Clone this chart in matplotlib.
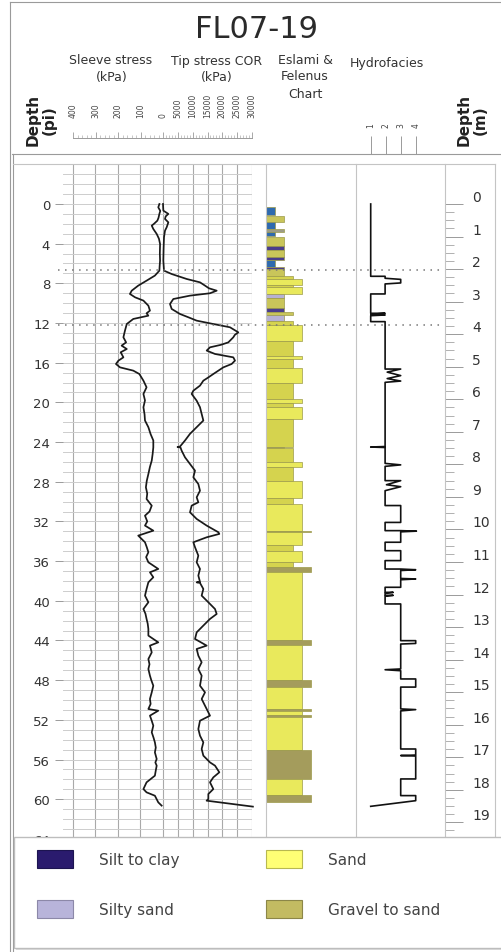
import matplotlib
matplotlib.use("Agg")
import matplotlib.pyplot as plt
from matplotlib.patches import Patch, Rectangle
from matplotlib.lines import Line2D
from matplotlib.ticker import MultipleLocator, FixedLocator
from matplotlib.transforms import blended_transform_factory

# ---------------- data ----------------
# CPT sleeve friction (kPa) against depth (ft)
sleeve_depth = [0.0, 0.34, 0.7, 1.0, 1.4, 1.68, 2.0, 2.18, 2.52, 3.02, 3.5, 4.03, 5.0, 5.71, 6.3, 6.72,
                7.22, 7.73, 8.23, 8.74, 9.07, 9.41, 9.74, 10.25, 10.75, 11.02, 11.26, 11.59, 12.1, 12.77,
                13.44, 13.95, 14.28, 14.62, 14.95, 15.46, 15.79, 16.13, 16.47, 16.8, 17.14, 17.81, 18.48,
                19.15, 19.8, 20.49, 21.2, 21.83, 22.5, 23.2, 23.84, 24.53, 25.2, 25.87, 26.5, 27.22, 27.9,
                28.56, 29.2, 29.74, 30.41, 31.0, 31.42, 32.0, 32.42, 32.93, 33.43, 34.1, 34.6, 35.11, 35.6,
                36.12, 36.79, 37.13, 37.63, 38.14, 38.81, 39.48, 40.15, 40.83, 41.3, 41.83, 42.3, 42.84,
                43.51, 44.19, 44.52, 45.2, 45.87, 46.4, 46.88, 47.55, 48.0, 48.56, 49.23, 49.9, 50.4, 50.91,
                51.08, 51.58, 52.1, 52.59, 53.26, 53.8, 54.27, 54.8, 55.28, 55.95, 56.3, 56.62, 57.1, 57.63,
                58.3, 58.98, 59.31, 59.65, 60.32, 60.65]
sleeve_kpa = [16, 21, 12, 16, 20, 25, 40, 50, 43, 28, 18, 13, 14, 13, 15, 16,
              36, 73, 110, 139, 147, 124, 87, 65, 58, 73, 65, 132, 161, 169,
              176, 164, 184, 161, 188, 176, 198, 209, 191, 132, 105, 87, 73,
              87, 80, 87, 82, 80, 65, 55, 43, 43, 46, 50, 58, 65, 72,
              76, 70, 73, 50, 60, 80, 70, 80, 43, 110, 80, 72, 65, 75,
              65, 21, 58, 43, 65, 73, 80, 65, 87, 78, 73, 68, 65,
              65, 21, 58, 50, 65, 60, 65, 58, 52, 43, 50, 58, 55, 65,
              21, 58, 50, 43, 50, 42, 36, 32, 36, 28, 34, 28, 32, 36,
              73, 87, 73, 36, 21, 6]

# CPT corrected tip resistance (kPa) against depth (ft)
tip_depth = [0.0, 0.67, 1.0, 1.25, 1.51, 1.85, 2.35, 2.69, 3.36, 4.5, 5.71, 6.72, 7.06, 7.56, 7.9,
             8.23, 8.5, 8.74, 9.0, 9.24, 9.58, 10.08, 10.58, 11.09, 11.42, 11.76, 12.1, 12.43, 12.94,
             13.2, 13.44, 13.95, 14.2, 14.45, 14.78, 15.12, 15.46, 15.79, 16.13, 16.47, 17.14, 17.5,
             17.81, 18.31, 18.82, 19.15, 19.83, 20.49, 21.16, 21.83, 22.5, 23.17, 23.84, 24.45, 24.5,
             24.55, 24.87, 25.54, 26.21, 26.88, 27.55, 28.23, 28.9, 29.57, 30.07, 30.41, 31.08, 31.75,
             32.42, 33.09, 33.26, 33.6, 34.1, 34.6, 35.45, 36.12, 36.79, 37.46, 38.1, 38.14, 38.2,
             38.81, 39.48, 40.15, 40.83, 41.33, 41.83, 42.5, 43.18, 43.85, 44.52, 44.86, 45.53, 46.2,
             46.88, 47.55, 48.56, 49.23, 49.9, 50.91, 51.58, 52.09, 52.93, 53.6, 54.27, 54.94, 55.61,
             56.29, 56.62, 57.29, 57.8, 58.3, 58.98, 59.48, 59.98, 60.15, 60.75]
tip_kpa = [0, 112, 1800, 900, 674, 1800, 1236, 674, 337, 200, 112, 337, 2920, 7980, 12470,
           14160, 15500, 18090, 15840, 9100, 3480, 2360, 2920, 5730, 8540, 11350, 16960, 22580, 25390,
           24200, 23700, 22020, 19500, 15840, 14720, 17530, 23700, 24270, 23140, 20330, 16960, 15200,
           13600, 12470, 10230, 9660, 11350, 12470, 13030, 13600, 11350, 9100, 7420, 5730, 4900,
           5900, 6290, 7420, 9100, 10790, 10230, 11910, 12470, 11350, 11910, 9660, 9100, 11350,
           14720, 18650, 18990, 14720, 10230, 10790, 11910, 11350, 12470, 11910, 12470, 11350, 12470,
           13600, 13030, 15280, 17530, 18090, 15840, 13600, 11350, 10790, 14720, 11350, 11910, 13030,
           11910, 13030, 12470, 14160, 13030, 14720, 15840, 12470, 11910, 12470, 13600, 13030, 13600,
           15840, 17530, 18990, 16960, 15840, 16960, 15280, 15280, 14700, 30300]

# Hydrofacies code along depth (ft)
hydro_depth = [0.0, 7.29, 7.29, 7.49, 7.6, 7.96, 8.06, 9.07, 9.07, 11.02, 11.02, 11.12, 11.19, 11.26,
               11.86, 11.86, 16.64, 16.64, 16.95, 17.3, 17.6, 17.85, 17.98, 24.45, 24.5, 24.55, 26.15,
               26.3, 26.45, 27.89, 27.89, 28.3, 28.5, 28.9, 30.4, 30.4, 32.1, 32.1, 32.93, 32.93, 32.98,
               33.05, 34.1, 34.1, 34.95, 34.95, 35.95, 35.95, 36.8, 36.8, 36.87, 36.95, 37.75, 37.8,
               37.88, 38.64, 38.64, 39.15, 39.15, 39.25, 39.45, 39.45, 39.55, 40.32, 40.32, 44.02,
               44.02, 44.3, 44.36, 46.87, 46.95, 47.05, 47.88, 47.88, 48.7, 48.7, 50.9, 50.97, 51.1,
               54.94, 54.94, 55.55, 55.6, 55.65, 57.96, 57.96, 59.64, 59.64, 60.15, 60.72]
hydro_value = [1.0, 1.0, 1.96, 1.96, 3.0, 3.0, 1.96, 1.96, 1.0, 1.0, 1.96, 1.0, 1.96, 1.0,
               1.0, 1.96, 1.96, 3.0, 2.1, 3.0, 2.1, 3.0, 1.96, 1.96, 1.0, 1.96, 1.96,
               3.0, 1.96, 1.96, 3.0, 2.05, 3.0, 1.96, 1.96, 3.0, 3.0, 1.96, 1.96, 3.0, 4.05,
               3.0, 3.0, 1.96, 1.96, 3.0, 3.0, 1.96, 1.96, 3.0, 4.0, 3.0, 3.0, 4.0,
               3.0, 3.0, 1.96, 1.96, 2.5, 1.96, 1.96, 2.5, 1.96, 1.96, 3.0, 3.0,
               4.0, 4.0, 3.0, 3.0, 1.96, 3.0, 3.0, 4.0, 4.0, 3.0, 3.0, 4.0, 3.0,
               3.0, 4.0, 4.0, 3.0, 4.0, 4.0, 3.0, 3.0, 4.0, 4.0, 1.0]

# Eslami & Fellenius soil classes: layer top/base (ft), class index, soil type
layer_top = [0.27, 1.18, 1.85, 2.52, 2.8, 3.36, 4.27, 4.6, 5.38, 5.6, 6.4, 6.6, 7.22, 7.56, 8.16,
             8.4, 9.07, 9.5, 10.5, 10.9, 11.2, 11.8, 12.16, 13.8, 15.3, 15.6, 16.5, 18.0, 19.66,
             20.06, 20.5, 21.67, 24.48, 24.58, 26.04, 26.54, 27.9, 29.67, 30.24, 32.93, 33.1, 34.35,
             34.95, 36.1, 36.6, 37.1, 44.0, 44.5, 48.0, 48.7, 50.9, 51.1, 51.5, 51.7, 55.0, 58.0, 59.6]
layer_base = [1.1, 1.85, 2.52, 2.8, 3.26, 4.27, 4.6, 5.38, 5.6, 6.4, 6.6, 7.22, 7.56, 8.16, 8.4,
              9.07, 9.5, 10.5, 10.9, 11.2, 11.8, 12.16, 13.8, 15.3, 15.6, 16.5, 18.0, 19.66, 20.06,
              20.5, 21.67, 24.48, 24.58, 26.04, 26.54, 27.9, 29.67, 30.24, 32.93, 33.1, 34.35, 34.95,
              36.1, 36.6, 37.1, 44.0, 44.5, 48.0, 48.7, 50.9, 51.1, 51.5, 51.7, 55.0, 58.0, 59.6, 60.25]
layer_class = [1, 2, 1, 2, 1, 2, 2, 2, 2, 1, 2, 2, 3, 4, 3,
               4, 2, 2, 2, 3, 2, 3, 4, 3, 4, 3, 4, 3, 4,
               3, 4, 3, 2, 3, 4, 3, 4, 3, 4, 5, 4, 3,
               4, 3, 5, 4, 5, 4, 5, 4, 5, 4, 5, 4, 5, 4, 5]
layer_type = ["clay", "mixed", "clay", "trace", "clay", "mixed", "silt", "mixed", "silt", "clay",
              "silt", "mixed", "sandf", "sand", "sandf", "sand", "silty", "mixed", "silt", "mixed",
              "silty", "sandf", "sand", "sandf", "sand", "sandf", "sand", "sandf", "sand", "sandf",
              "sand", "sandf", "trace", "sandf", "sand", "sandf", "sand", "sandf", "sand", "gravel",
              "sand", "sandf", "sand", "sandf", "gravel", "sand", "gravel", "sand", "gravel", "sand",
              "gravel", "sand", "gravel", "sand", "gravel", "sand", "gravel"]

boundary_depth = [6.65, 12.2]
sleeve_ticks = [400, 300, 200, 100, 0]
tip_ticks = [5000, 10000, 15000, 20000, 25000, 30000]
hydro_ticks = [1, 2, 3, 4]
depth_ft_ticks = list(range(0, 65, 4))
depth_m_ticks = list(range(0, 21))
legend_labels = ["Silt to clay", "Silty sand", "Sand", "Gravel to sand"]
legend_colors = ["#2a1b6e", "#b8b4da", "#ffff75", "#c3bb62"]
legend_edges = ["#1c1450", "#8c88a8", "#b8b850", "#8c8648"]

# ---------------- styling ----------------
soil_colors = {"clay": "#2f6aae", "silt": "#4a3d8c", "silty": "#b6b1d4", "mixed": "#c9c55a",
               "sandf": "#d5d34e", "sand": "#e9e95c", "gravel": "#a49c5c", "trace": "#9d9c86"}
frame_c = "#9a9a9a"
vgrid_c = "#a9a9a9"
hgrid_c = "#cdcdcd"
text_c = "#333333"
plt.rcParams["font.family"] = ["DejaVu Sans"]

W, H = 501.0, 953.0
fig = plt.figure(figsize=(W / 100, H / 100), dpi=100)
fig.patch.set_facecolor("white")


def px_axes(x0, y0, x1, y1):
    return fig.add_axes([x0 / W, 1 - y1 / H, (x1 - x0) / W, (y1 - y0) / H])


def px_line(xs, ys, **kw):
    fig.add_artist(Line2D([x / W for x in xs], [1 - y / H for y in ys],
                          transform=fig.transFigure, **kw))


def px_text(x, y, s, **kw):
    return fig.text(x / W, 1 - y / H, s, **kw)


top_ft, bot_ft = -4.03, 64.82

# ---------------- stress track ----------------
ax_s = px_axes(63, 165, 252, 848)
ax_s.patch.set_visible(False)
ax_t = ax_s.twiny()
ax_t.patch.set_visible(False)

ax_s.plot(sleeve_kpa, sleeve_depth, color="#1a1a1a", lw=1.25, zorder=3)
ax_t.plot(tip_kpa, tip_depth, color="#1a1a1a", lw=1.25, zorder=3, clip_on=False)

ax_s.set_xlim(444.4, -395.6)
ax_t.set_xlim(-33708, 30000)
ax_s.set_ylim(bot_ft, top_ft)

ax_s.set_xticks(sleeve_ticks)
ax_s.tick_params(axis="x", length=0, labelbottom=False, labeltop=False)
ax_s.grid(axis="x", color=vgrid_c, lw=0.8, zorder=1)
ax_s.vlines(tip_ticks, 0, 1, transform=blended_transform_factory(ax_t.transData, ax_s.transAxes),
            color=vgrid_c, lw=0.8, zorder=1)
ax_s.set_xlim(444.4, -395.6)
ax_s.set_ylim(bot_ft, top_ft)
ax_s.yaxis.set_major_locator(FixedLocator(depth_ft_ticks))
ax_s.yaxis.set_minor_locator(MultipleLocator(1))
ax_s.grid(axis="y", which="both", color=hgrid_c, lw=0.7, zorder=0.5)
ax_s.tick_params(axis="y", which="major", direction="out", length=5.8, width=0.7, color=frame_c,
                 pad=3.4, labelsize=9.5, labelcolor=text_c)
ax_s.tick_params(axis="y", which="minor", length=0)
for sp in ax_s.spines.values():
    sp.set_visible(False)
ax_t.axis("off")

# ---------------- Eslami & Fellenius column ----------------
ax_e = px_axes(266, 165, 356, 848)
ax_e.patch.set_visible(False)
ax_e.barh(layer_top, layer_class, height=[b - t for t, b in zip(layer_top, layer_base)],
          left=0, align="edge", color=[soil_colors[k] for k in layer_type],
          edgecolor="#9c9a4a", linewidth=0.5)
ax_e.set_xlim(0, 10)
ax_e.set_ylim(bot_ft, top_ft)
ax_e.axis("off")

# ---------------- hydrofacies column ----------------
ax_h = px_axes(356, 165, 445, 848)
ax_h.patch.set_visible(False)
ax_h.plot(hydro_value, hydro_depth, color="#111111", lw=1.2)
ax_h.set_xlim(0.02, 5.953)
ax_h.set_ylim(bot_ft, top_ft)
ax_h.axis("off")

# ---------------- metric depth scale ----------------
ax_m = px_axes(445, 165, 495, 848)
ax_m.patch.set_visible(False)
ax_m.set_ylim(bot_ft * 0.3048, top_ft * 0.3048)
ax_m.set_xticks([])
ax_m.yaxis.set_major_locator(FixedLocator(depth_m_ticks))
ax_m.yaxis.set_minor_locator(FixedLocator([k * 0.25 for k in range(0, 81) if k % 4]))
ax_m.tick_params(axis="y", which="major", direction="in", length=13, width=0.7, color=frame_c,
                 left=True, right=False, labelleft=False, labelright=True, pad=-16.6,
                 labelsize=10, labelcolor=text_c)
ax_m.tick_params(axis="y", which="minor", direction="in", length=6.5, width=0.7, color="#b0b0b0",
                 left=True, right=False)
for sp in ax_m.spines.values():
    sp.set_visible(False)
for lab in ax_m.get_yticklabels():
    lab.set_verticalalignment("bottom")

# ---------------- header scales ----------------
hs = px_axes(73, 119, 163, 139)
ht = px_axes(163, 119, 252, 139)
for hax, lim, ticks, minor in ((hs, (400, 0), sleeve_ticks, 20), (ht, (0, 30000), tip_ticks, 1000)):
    hax.patch.set_visible(False)
    hax.set_xlim(*lim)
    hax.set_xticks(ticks)
    hax.set_xticklabels([str(v) for v in ticks])
    hax.xaxis.set_minor_locator(MultipleLocator(minor))
    hax.set_yticks([])
    hax.tick_params(axis="x", which="major", direction="in", length=4.3, width=0.6, color=frame_c,
                    bottom=True, top=False, labelbottom=False, labeltop=True, labelrotation=90,
                    labelsize=5.5, pad=1, labelcolor="#444444")
    hax.tick_params(axis="x", which="minor", direction="in", length=2.2, width=0.5, color="#b0b0b0",
                    bottom=True, top=False)
    for name, sp in hax.spines.items():
        sp.set_visible(name == "bottom")
        sp.set_color(frame_c)
        sp.set_linewidth(0.7)

hh = px_axes(356, 129, 445, 155)
hh.patch.set_visible(False)
hh.set_xlim(0.02, 5.953)
hh.set_xticks(hydro_ticks)
hh.set_xticklabels([str(v) for v in hydro_ticks])
hh.set_yticks([])
hh.tick_params(axis="x", direction="in", length=13, width=0.7, color=frame_c, bottom=True, top=False,
               labelbottom=False, labeltop=True, labelrotation=90, labelsize=5.5, pad=0.5,
               labelcolor="#444444")
for sp in hh.spines.values():
    sp.set_visible(False)

# ---------------- frames ----------------
px_line([10, 501], [3, 3], color=frame_c, lw=0.8)
px_line([10, 10], [3, 953], color=frame_c, lw=0.8)
px_line([13, 13], [155, 953], color=frame_c, lw=0.8)
px_line([12, 501], [155, 155], color=frame_c, lw=0.8)
px_line([13, 495], [165, 165], color="#c4c4c4", lw=0.8)
for xv in (266, 356, 445, 495):
    px_line([xv, xv], [165, 945], color="#c4c4c4", lw=0.8)

# unit boundaries across the tracks
btrans = blended_transform_factory(fig.transFigure, ax_s.transData)
for d in boundary_depth:
    fig.add_artist(Line2D([58 / W, 440 / W], [d, d], transform=btrans, color="#777777",
                          lw=1.1, linestyle=(0, (1, 3.6)), zorder=2.5))

# ---------------- header text ----------------
px_text(257, 29, "FL07-19", fontsize=22, ha="center", va="center", color="#2a2a2a")
hdr = dict(fontsize=9, ha="center", va="center", color=text_c)
px_text(111, 61, "Sleeve stress", **hdr)
px_text(112, 78, "(kPa)", **hdr)
px_text(217, 61, "Tip stress COR", **hdr)
px_text(217, 78, "(kPa)", **hdr)
px_text(306, 60, "Eslami &", **hdr)
px_text(305, 77, "Felenus", **hdr)
px_text(305, 95, "Chart", **hdr)
px_text(387, 63, "Hydrofacies", **hdr)
px_text(41, 120, "Depth\n(pi)", fontsize=11, fontweight="bold", rotation=90, ha="center",
        va="center", multialignment="center", linespacing=1.05, color="#222222")
px_text(472, 120, "Depth\n(m)", fontsize=11, fontweight="bold", rotation=90, ha="center",
        va="center", multialignment="center", linespacing=1.05, color="#222222")

# ---------------- legend ----------------
fig.add_artist(Rectangle((16 / W, 1 - 951 / H), (507 - 16) / W, (951 - 840) / H,
                         transform=fig.transFigure, facecolor="#dddddd", edgecolor="none",
                         zorder=3.9))
fig.add_artist(Rectangle((14 / W, 1 - 949 / H), (505 - 14) / W, (949 - 838) / H,
                         transform=fig.transFigure, facecolor="white", edgecolor="#bdbdbd",
                         lw=1.0, zorder=4))
handles = [Patch(facecolor=c, edgecolor=e, lw=0.8) for c, e in zip(legend_colors, legend_edges)]
leg = fig.legend(handles, legend_labels, loc="upper left", bbox_to_anchor=(37 / W, 1 - 851 / H),
                 ncol=2, frameon=False, fontsize=11, handlelength=2.35, handleheight=1.44,
                 handletextpad=1.7, labelspacing=2.09, columnspacing=5.7, borderpad=0,
                 borderaxespad=0, labelcolor="#444444")
leg.set_zorder(6)

fig.savefig("out.png", dpi=100, facecolor="white")
